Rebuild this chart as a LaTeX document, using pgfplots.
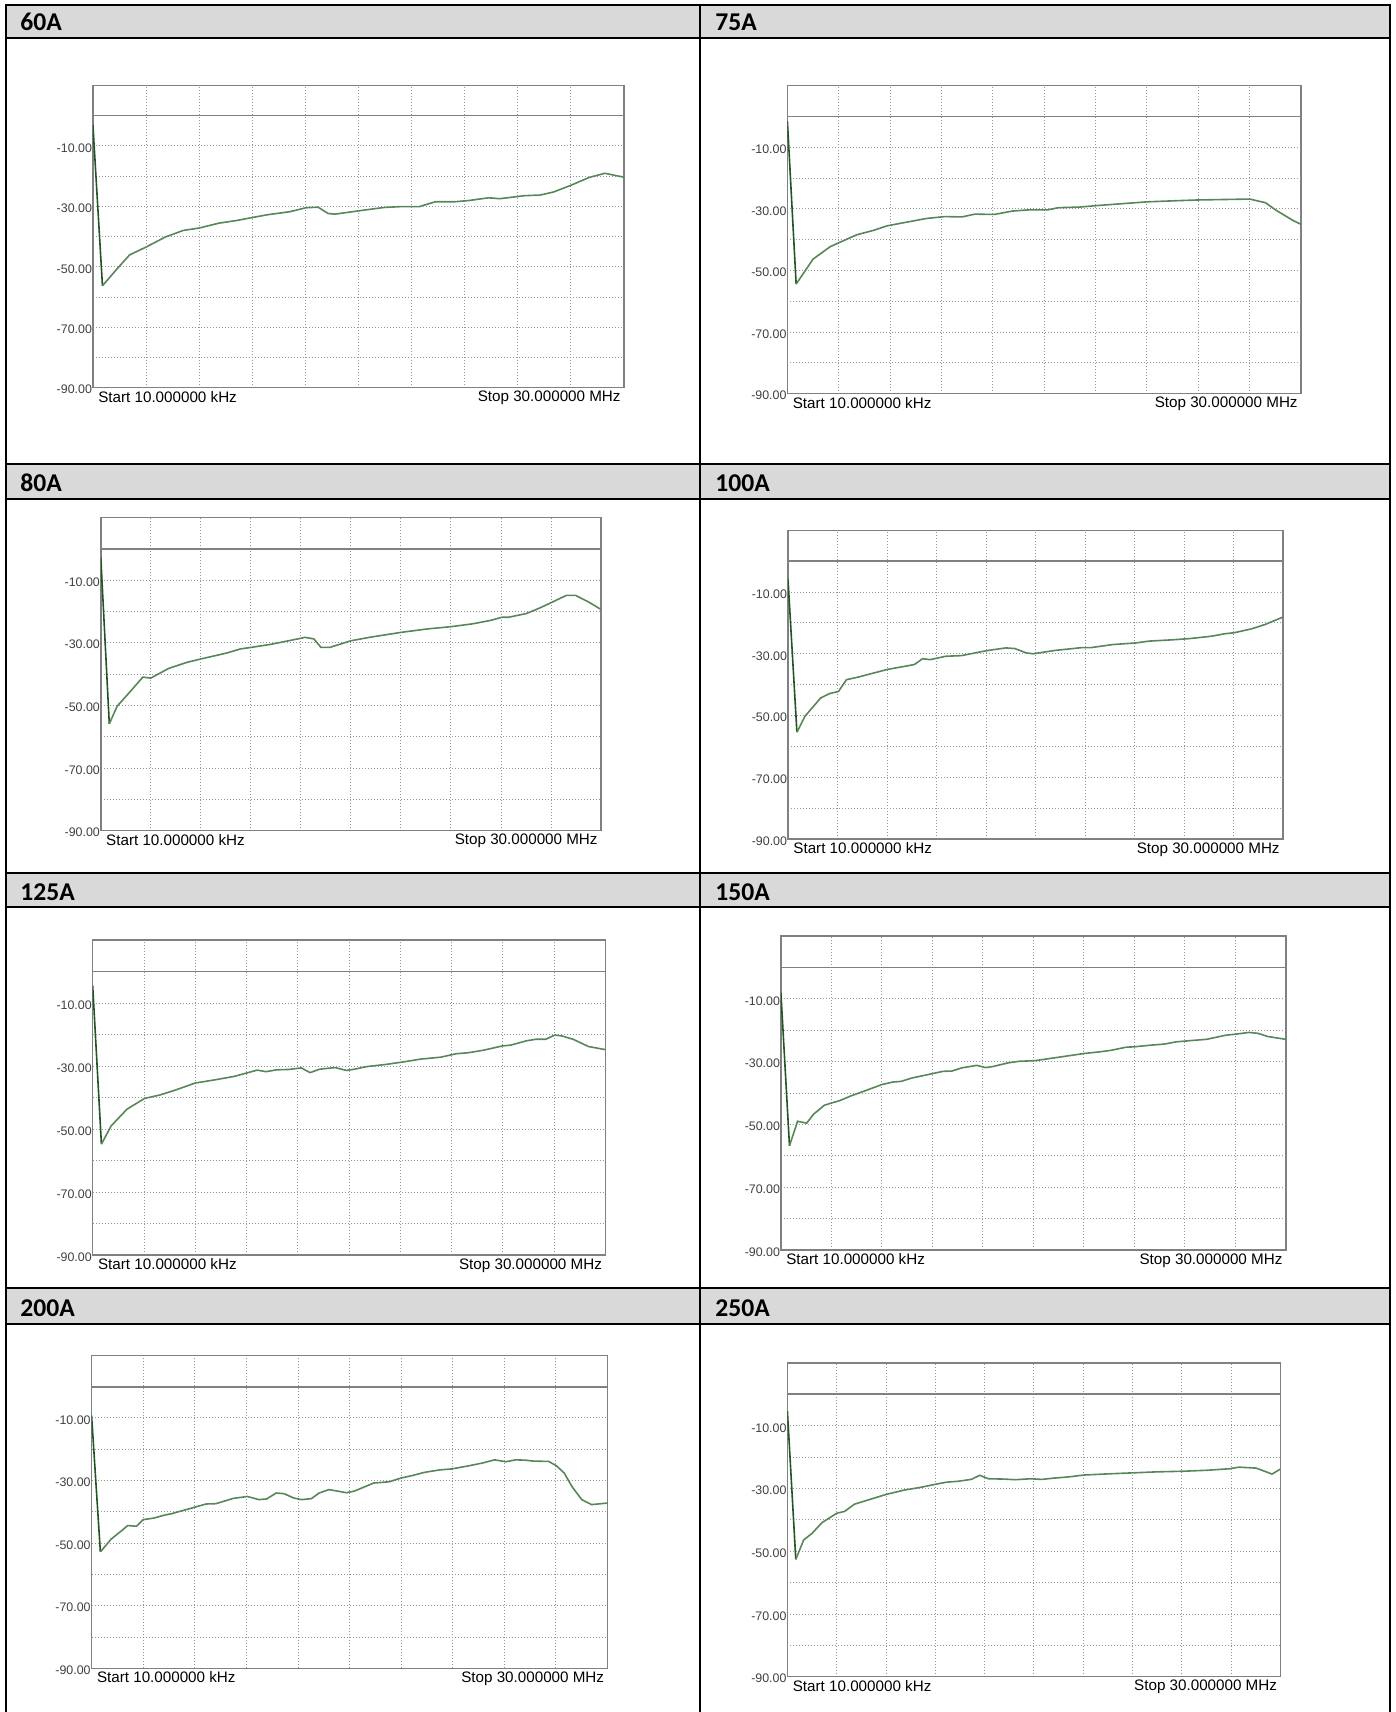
\documentclass[border=0pt]{standalone}
\usepackage{pgfplots}
\pgfplotsset{compat=1.18}
\usepackage{fontspec}
\setmainfont{Liberation Sans}
\newfontfamily\hdrfont{Carlito}
\definecolor{hdrgray}{RGB}{217,217,217}
\definecolor{trace}{RGB}{88,134,88}
\definecolor{tracedark}{RGB}{35,85,35}
\definecolor{framegray}{RGB}{128,128,128}
\definecolor{gridgray}{RGB}{150,150,150}
\pgfplotsset{
 vna/.style={
  scale only axis,
  anchor=north west,
  xmin=0, xmax=10, ymin=-90, ymax=10,
  xtick={1,2,...,9}, xticklabels={},
  ytick={-90,-80,...,-10},
  yticklabels={-90.00,{},-70.00,{},-50.00,{},-30.00,{},-10.00},
  major tick length=0pt,
  xmajorgrids, ymajorgrids,
  major grid style={gridgray, line width=0.45pt, dash pattern=on 0.5pt off 1pt},
  axis line style={framegray, line width=0.7pt},
  yticklabel style={font=\fontsize{6.2}{7}\selectfont, text=black!75, inner xsep=0.3pt, anchor=east, yshift=-1pt},
  clip mode=individual,
 }
}
\newcommand\startstop{%
 \node[anchor=north west,inner sep=0pt,font=\fontsize{7.6}{9}\selectfont,xshift=2.5pt,yshift=-1.6pt] at (rel axis cs:0,0) {Start 10.000000 kHz};
 \node[anchor=north east,inner sep=0pt,font=\fontsize{7.6}{9}\selectfont,xshift=-1.5pt,yshift=-1.6pt] at (rel axis cs:1,0) {Stop 30.000000 MHz};
 \addplot[framegray, line width=0.9pt] coordinates {(0,0) (10,0)};
}
\begin{document}
\begin{tikzpicture}
\begin{scope}[x=0.5pt,y=-0.5pt]
\useasboundingbox (0,0) rectangle (1396,1712);
\foreach \a/\b in {5/38, 464/499, 873/907, 1288/1324} {
  \fill[hdrgray] (6,\a) rectangle (1390,\b);
  \draw[line width=1.3pt] (5,\a) -- (1391,\a);
  \draw[line width=1.3pt] (5,\b) -- (1391,\b);
}
\draw[line width=1.3pt] (6,4.4) -- (6,1712);
\draw[line width=1.3pt] (700,4.4) -- (700,1712);
\draw[line width=1.3pt] (1390,4.4) -- (1390,1712);
\tikzset{hl/.style={anchor=base west, inner sep=0pt, font=\hdrfont\bfseries\fontsize{12.8}{15}\selectfont}}
\node[hl] at (20,31) {60A};
\node[hl] at (715,31) {75A};
\node[hl] at (20,491) {80A};
\node[hl] at (715,491) {100A};
\node[hl] at (20,900) {125A};
\node[hl] at (715,900) {150A};
\node[hl] at (20,1316) {200A};
\node[hl] at (715,1316) {250A};
\end{scope}

% 60A
\begin{axis}[vna, at={(46.45pt,-42.65pt)}, width=265.55pt, height=151.2pt]
\startstop
\addplot[tracedark, line width=0.8pt] coordinates {(0,-3.0)(0.18,-56.3)};
\addplot[trace, line width=0.8pt] coordinates {(0.18,-56.3)(0.44,-51.0)(0.69,-46.1)(1.0,-43.5)(1.36,-40.2)(1.70,-38.0)(2.0,-37.2)(2.37,-35.6)(2.71,-34.7)(3.01,-33.7)(3.29,-32.8)(3.71,-31.8)(4.01,-30.5)(4.24,-30.3)(4.43,-32.4)(4.56,-32.6)(4.97,-31.6)(5.48,-30.4)(5.82,-30.1)(6.15,-30.1)(6.45,-28.5)(6.82,-28.5)(7.08,-28.1)(7.45,-27.2)(7.66,-27.5)(8.13,-26.5)(8.42,-26.3)(8.67,-25.3)(9.01,-23.0)(9.34,-20.5)(9.64,-19.1)(10,-20.4)};
\end{axis}

% 75A
\begin{axis}[vna, at={(393.7pt,-42.85pt)}, width=256.8pt, height=154pt]
\startstop
\addplot[tracedark, line width=0.8pt] coordinates {(0,-1.5)(0.17,-54.4)};
\addplot[trace, line width=0.8pt] coordinates {(0.17,-54.4)(0.5,-46.3)(0.83,-42.3)(1.0,-41.0)(1.35,-38.4)(1.67,-37.0)(1.94,-35.5)(2.29,-34.4)(2.71,-33.1)(3.06,-32.5)(3.40,-32.6)(3.65,-31.7)(4.03,-31.8)(4.38,-30.7)(4.72,-30.3)(5.07,-30.3)(5.28,-29.6)(5.69,-29.4)(6.04,-28.9)(6.6,-28.2)(7.01,-27.7)(7.64,-27.3)(7.99,-27.1)(8.68,-26.9)(9.0,-26.8)(9.31,-28.0)(9.51,-30.4)(9.86,-33.9)(10,-35.0)};
\end{axis}

% 80A
\begin{axis}[vna, at={(50.4pt,-258.65pt)}, width=250.1pt, height=156.7pt]
\startstop
\addplot[tracedark, line width=0.8pt] coordinates {(0,-2.8)(0.17,-55.9)};
\addplot[trace, line width=0.8pt] coordinates {(0.17,-55.9)(0.33,-50.2)(0.55,-46.3)(0.84,-41.0)(1.0,-41.3)(1.36,-38.2)(1.72,-36.3)(2.0,-35.2)(2.52,-33.3)(2.79,-32.0)(3.01,-31.5)(3.41,-30.5)(4.0,-28.6)(4.08,-28.3)(4.26,-28.8)(4.40,-31.5)(4.58,-31.5)(5.0,-29.4)(5.37,-28.3)(6.01,-26.7)(6.54,-25.6)(7.0,-24.9)(7.43,-24.0)(7.79,-22.9)(8.02,-21.9)(8.15,-21.9)(8.51,-20.7)(8.78,-18.9)(9.02,-17.1)(9.31,-14.9)(9.49,-14.9)(9.76,-17.1)(10,-19.4)};
\end{axis}

% 100A
\begin{axis}[vna, at={(394pt,-265.15pt)}, width=247.5pt, height=154.35pt]
\startstop
\addplot[tracedark, line width=0.8pt] coordinates {(0,-5.9)(0.18,-55.4)};
\addplot[trace, line width=0.8pt] coordinates {(0.18,-55.4)(0.34,-50.3)(0.66,-44.3)(0.84,-42.9)(1.02,-42.2)(1.18,-38.4)(1.43,-37.5)(2.0,-35.1)(2.55,-33.5)(2.72,-31.6)(2.87,-31.9)(3.19,-30.8)(3.50,-30.6)(4.01,-29.0)(4.40,-28.1)(4.58,-28.3)(4.81,-29.7)(4.95,-30.0)(5.40,-28.9)(5.94,-28.0)(6.12,-28.0)(6.57,-27.0)(7.02,-26.5)(7.29,-25.9)(7.74,-25.5)(8.10,-25.1)(8.56,-24.3)(8.83,-23.5)(9.01,-23.2)(9.37,-21.9)(9.64,-20.5)(10,-18.1)};
\end{axis}

% 125A
\begin{axis}[vna, at={(46.35pt,-470pt)}, width=256.3pt, height=157.5pt]
\startstop
\addplot[tracedark, line width=0.8pt] coordinates {(0,-4.5)(0.17,-54.8)};
\addplot[trace, line width=0.8pt] coordinates {(0.17,-54.8)(0.36,-49.0)(0.67,-43.7)(1.01,-40.3)(1.31,-39.2)(1.62,-37.6)(2.0,-35.4)(2.38,-34.4)(2.76,-33.3)(3.21,-31.3)(3.38,-31.8)(3.59,-31.2)(3.82,-31.1)(4.07,-30.6)(4.24,-32.1)(4.43,-31.0)(4.73,-30.5)(4.95,-31.4)(5.11,-31.0)(5.34,-30.2)(5.72,-29.5)(6.10,-28.6)(6.40,-27.8)(6.79,-27.2)(7.09,-26.1)(7.32,-25.8)(7.62,-25.0)(8.0,-23.6)(8.15,-23.4)(8.46,-22.0)(8.65,-21.5)(8.84,-21.5)(9.01,-20.2)(9.14,-20.4)(9.37,-21.5)(9.67,-23.8)(10,-24.8)};
\end{axis}

% 150A
\begin{axis}[vna, at={(390.45pt,-468pt)}, width=252.45pt, height=157pt]
\startstop
\addplot[tracedark, line width=0.8pt] coordinates {(0,-8.1)(0.17,-56.8)};
\addplot[trace, line width=0.8pt] coordinates {(0.17,-56.8)(0.33,-49.0)(0.51,-49.6)(0.65,-46.7)(0.86,-43.9)(1.0,-43.2)(1.17,-42.4)(1.39,-40.9)(1.70,-39.1)(2.0,-37.3)(2.22,-36.5)(2.38,-36.3)(2.60,-35.2)(2.98,-33.9)(3.21,-33.1)(3.39,-33.0)(3.58,-32.0)(3.88,-31.2)(4.05,-31.9)(4.19,-31.6)(4.50,-30.4)(4.72,-29.9)(5.03,-29.7)(5.33,-29.0)(5.63,-28.3)(6.01,-27.4)(6.31,-26.9)(6.54,-26.4)(6.84,-25.4)(6.99,-25.3)(7.30,-24.8)(7.60,-24.4)(7.83,-23.7)(8.05,-23.4)(8.43,-22.9)(8.81,-21.6)(9.04,-21.2)(9.27,-20.7)(9.45,-21.0)(9.64,-22.0)(10,-22.9)};
\end{axis}

% 200A
\begin{axis}[vna, at={(45.8pt,-677.65pt)}, width=257.95pt, height=156.5pt]
\startstop
\addplot[tracedark, line width=0.8pt] coordinates {(0,-9.3)(0.17,-52.8)};
\addplot[trace, line width=0.8pt] coordinates {(0.17,-52.8)(0.38,-48.7)(0.57,-46.2)(0.70,-44.4)(0.87,-44.6)(1.0,-42.5)(1.21,-42.0)(1.40,-41.1)(1.55,-40.6)(1.70,-39.9)(1.92,-38.9)(2.22,-37.5)(2.41,-37.4)(2.75,-35.7)(3.02,-35.1)(3.24,-36.1)(3.39,-35.9)(3.58,-34.0)(3.73,-34.2)(3.92,-35.6)(4.07,-36.1)(4.26,-35.8)(4.41,-34.0)(4.60,-32.9)(4.94,-33.9)(5.09,-33.4)(5.47,-30.8)(5.77,-30.4)(6.0,-29.2)(6.22,-28.4)(6.45,-27.4)(6.75,-26.6)(6.98,-26.3)(7.28,-25.4)(7.58,-24.4)(7.81,-23.4)(8.03,-24.0)(8.22,-23.4)(8.41,-23.5)(8.56,-23.8)(8.86,-23.9)(9.01,-25.3)(9.16,-27.6)(9.31,-31.9)(9.50,-36.1)(9.69,-37.7)(10,-37.2)};
\end{axis}

% 250A
\begin{axis}[vna, at={(393.7pt,-681.5pt)}, width=246.5pt, height=156.85pt]
\startstop
\addplot[tracedark, line width=0.8pt] coordinates {(0,-5.3)(0.17,-52.6)};
\addplot[trace, line width=0.8pt] coordinates {(0.17,-52.6)(0.33,-46.4)(0.50,-44.3)(0.70,-40.9)(1.0,-37.9)(1.16,-37.3)(1.36,-35.0)(1.67,-33.5)(2.0,-31.9)(2.37,-30.5)(2.68,-29.7)(2.99,-28.7)(3.22,-28.0)(3.46,-27.7)(3.73,-27.1)(3.90,-25.8)(4.08,-26.9)(4.39,-27.0)(4.62,-27.2)(4.93,-26.9)(5.16,-27.1)(5.40,-26.7)(5.71,-26.3)(6.02,-25.7)(6.56,-25.3)(7.03,-25.0)(7.49,-24.7)(8.02,-24.5)(8.50,-24.2)(8.97,-23.7)(9.16,-23.2)(9.51,-23.5)(9.83,-25.4)(10,-23.8)};
\end{axis}
\end{tikzpicture}
\end{document}
